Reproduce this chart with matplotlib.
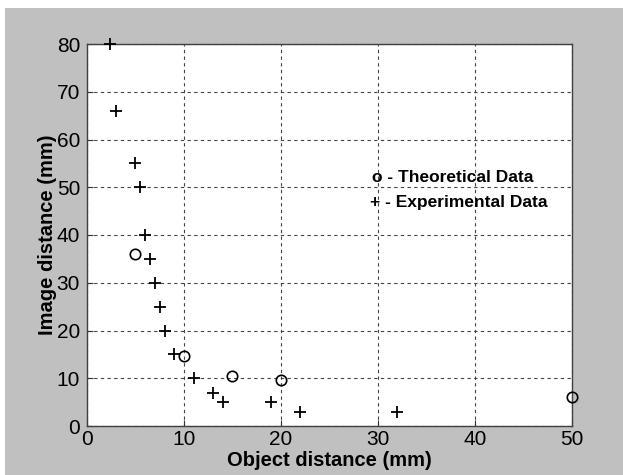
import numpy as np
import matplotlib
matplotlib.use("Agg")
import matplotlib.pyplot as plt
from matplotlib.patches import Rectangle

# experimental data (+)
exp_x = [2.4, 3, 5, 5.5, 6, 6.5, 7, 7.5, 8, 9, 11, 13, 14, 19, 22, 32]
exp_y = [80, 66, 55, 50, 40, 35, 30, 25, 20, 15, 10, 7, 5, 5, 3, 3]
# theoretical data (o)
th_x = [5, 10, 15, 20, 50]
th_y = [36, 14.6, 10.5, 9.7, 6]

xticks = [0, 10, 20, 30, 40, 50]
yticks = [0, 10, 20, 30, 40, 50, 60, 70, 80]

plt.rcParams['font.family'] = ['Liberation Sans', 'DejaVu Sans']

fig = plt.figure(figsize=(6.23, 4.75), dpi=100, facecolor='white')
# grey window area (thin white border on top and left)
fig.patches.append(Rectangle((5/623, 0), 1, 1 - 8/475, transform=fig.transFigure,
                             facecolor='#c0c0c0', edgecolor='none', zorder=-10))
ax = fig.add_axes([87/623, 1 - 426/475, (571.7 - 87)/623, (426 - 44)/475])
ax.set_facecolor('white')

ax.plot(exp_x, exp_y, 'k+', markersize=9, markeredgewidth=1.3, clip_on=False, zorder=3)
ax.plot(th_x, th_y, 'ko', markerfacecolor='none', markersize=7.5, markeredgewidth=1.2,
        clip_on=False, zorder=3)

ax.text(29.4, 51.1, 'o - Theoretical Data', fontsize=12.5, fontweight='bold', va='baseline')
ax.text(29.2, 45.9, '+ - Experimental Data', fontsize=12.5, fontweight='bold', va='baseline')

ax.set_xlim(0, 50)
ax.set_ylim(0, 80)
ax.set_xticks(xticks)
ax.set_yticks(yticks)
ax.tick_params(direction='in', length=4, labelsize=15, colors='#333333', labelcolor='black')
ax.tick_params(axis='x', pad=3)
ax.tick_params(axis='y', pad=5)
ax.grid(True, color='#444444', linestyle=(0, (3, 3)), linewidth=0.8)
for s in ax.spines.values():
    s.set_color('#404040')
    s.set_linewidth(1.0)

ax.set_xlabel('Object distance (mm)', fontsize=14.5, fontweight='bold', labelpad=1)
ax.set_ylabel('Image distance (mm)', fontsize=14.5, fontweight='bold', labelpad=0)

fig.savefig('out.png', dpi=100, facecolor=fig.get_facecolor())
